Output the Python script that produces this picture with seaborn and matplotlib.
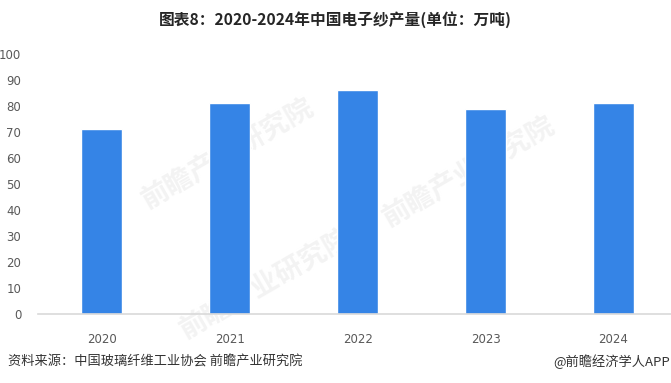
import pandas as pd
import matplotlib
matplotlib.use('Agg')
import matplotlib.pyplot as plt
import seaborn as sns

# data
years = ['2020', '2021', '2022', '2023', '2024']
output = [71, 81, 86, 79, 81]
y_ticks = [0, 10, 20, 30, 40, 50, 60, 70, 80, 90, 100]

title = '图表8：2020-2024年中国电子纱产量(单位：万吨)'
source = '资料来源：中国玻璃纤维工业协会 前瞻产业研究院'
brand = '@前瞻经济学人APP'

sns.set_style('white')
plt.rcParams['font.family'] = ['Noto Sans CJK SC', 'DejaVu Sans']

df = pd.DataFrame({'year': years, 'output': output})

fig = plt.figure(figsize=(6.71, 3.83), dpi=100)
ax = fig.add_axes([38 / 671, 1 - 314 / 383, 1 - 38 / 671, (314 - 54) / 383])

sns.barplot(data=df, x='year', y='output', color='#3584E6', saturation=1,
            width=0.32, ax=ax, zorder=2)

ax.set_ylim(0, 100)
ax.set_xlim(-0.5, 4.45)
ax.set_yticks(y_ticks)
ax.set_xlabel('')
ax.set_ylabel('')
ax.tick_params(axis='both', length=0, labelsize=8.5, colors='#595959')
ax.tick_params(axis='x', pad=14)
ax.tick_params(axis='y', pad=12)
for lbl in ax.get_yticklabels() + ax.get_xticklabels():
    lbl.set_fontfamily('DejaVu Sans')

for side in ['top', 'right', 'left']:
    ax.spines[side].set_visible(False)
ax.spines['bottom'].set_color('#d9d9d9')
ax.spines['bottom'].set_linewidth(1.2)

# faint watermarks behind the bars
for (wx, wy) in [(0.30, 0.62), (0.68, 0.55), (0.36, 0.12)]:
    ax.text(wx, wy, '前瞻产业研究院', transform=ax.transAxes, fontsize=20,
            color='#f3f3f3', rotation=30, ha='center', va='center',
            fontweight='bold', zorder=1)

fig.text(335 / 671, 1 - 20 / 383, title, ha='center', va='center',
         fontsize=11.3, fontweight='bold', color='#262626')
fig.text(8 / 671, 1 - 362 / 383, source, ha='left', va='center',
         fontsize=9.5, color='#333333')
fig.text(670 / 671, 1 - 362 / 383, brand, ha='right', va='center',
         fontsize=9.5, color='#333333')

fig.savefig('out.png', dpi=100)
